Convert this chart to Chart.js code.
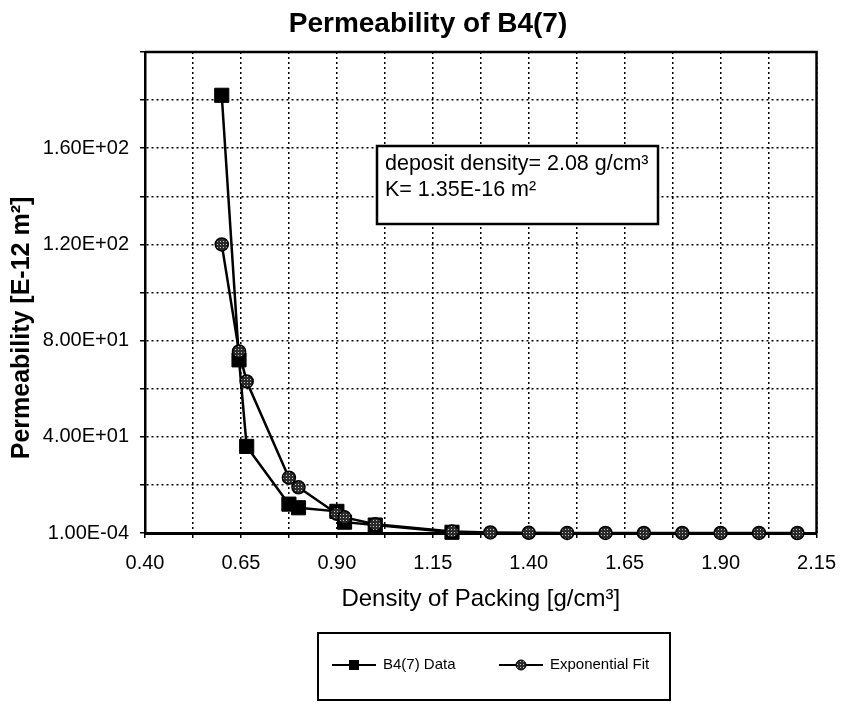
<!DOCTYPE html>
<html lang="en">
<head>
<meta charset="UTF-8">
<title>Permeability of B4(7)</title>
<script src="https://cdn.jsdelivr.net/npm/chart.js"></script>
<style>
  html, body { margin: 0; padding: 0; background: #fff; }
</style>
</head>
<body>
<canvas id="permChart" width="849" height="704"></canvas>
<script>
// B4(7) measured points
const dataDensity = [0.60, 0.645, 0.665, 0.775, 0.80, 0.90, 0.92, 1.00, 1.20];
const dataPerm = [182, 72, 36, 12, 10.5, 9, 4.5, 3.3, 0.3];

// exponential fit
const fitDensity = [0.60, 0.645, 0.665, 0.775, 0.80, 0.90, 0.92, 1.00, 1.20, 1.30, 1.40, 1.50, 1.60, 1.70, 1.80, 1.90, 2.00, 2.10];
const fitPerm = [120, 75.5, 63, 23, 19, 8, 6.5, 3.6, 0.6, 0.25, 0.1, 0.04, 0.02, 0.01, 0.005, 0.002, 0.001, 0.0005];

// axis ticks
const xTickValues = [0.40, 0.65, 0.90, 1.15, 1.40, 1.65, 1.90, 2.15];
const xTickLabels = ['0.40', '0.65', '0.90', '1.15', '1.40', '1.65', '1.90', '2.15'];
const yTickValues = [0.0001, 40, 80, 120, 160];
const yTickLabels = ['1.00E-04', '4.00E+01', '8.00E+01', '1.20E+02', '1.60E+02'];
const yMax = 200;
const yGridStep = 20;

const FONT = '"Liberation Sans", Arial, Helvetica, sans-serif';
Chart.defaults.font.family = FONT;
Chart.defaults.color = '#000';

// gridlines: major ticks plus the halfway lines
const xGrid = [];
xTickValues.forEach((v, i) => {
    xGrid.push(v);
    if (i < xTickValues.length - 1) xGrid.push((v + xTickValues[i + 1]) / 2);
});
const yGrid = [yTickValues[0]];
for (let v = yGridStep; v <= yMax; v += yGridStep) yGrid.push(v);

function labelFor(values, labels, value) {
    const i = values.findIndex(t => Math.abs(t - value) < 1e-6);
    return i >= 0 ? labels[i] : '';
}

// dark fill with light speckles for the fit markers
function speckle() {
    const c = document.createElement('canvas');
    c.width = 3; c.height = 3;
    const g = c.getContext('2d');
    g.fillStyle = '#2b2b2b';
    g.fillRect(0, 0, 3, 3);
    g.fillStyle = '#c8c8c8';
    g.fillRect(1, 1, 1, 1);
    return g.createPattern(c, 'repeat');
}
const fitFill = speckle();

const extras = {
    id: 'extras',
    beforeDatasetsDraw(chart) {
        const { ctx, chartArea: a } = chart;
        ctx.save();
        ctx.strokeStyle = '#000';
        ctx.lineWidth = 2.5;
        ctx.beginPath();
        ctx.moveTo(a.left, a.top);
        ctx.lineTo(a.right, a.top);
        ctx.lineTo(a.right, a.bottom);
        ctx.stroke();
        ctx.restore();
    },
    afterDraw(chart) {
        const { ctx } = chart;
        ctx.save();
        ctx.fillStyle = '#000';

        // title
        ctx.font = 'bold 28px ' + FONT;
        ctx.textAlign = 'center';
        ctx.textBaseline = 'middle';
        ctx.fillText('Permeability of B4(7)', 428, 24);

        // y axis title
        ctx.save();
        ctx.translate(22, 328);
        ctx.rotate(-Math.PI / 2);
        ctx.font = 'bold 25px ' + FONT;
        ctx.fillText('Permeability [E-12 m\u00b2]', 0, 0);
        ctx.restore();

        // text box
        ctx.fillStyle = '#fff';
        ctx.fillRect(377, 146, 281, 78);
        ctx.strokeStyle = '#000';
        ctx.lineWidth = 2.5;
        ctx.strokeRect(377, 146, 281, 78);
        ctx.fillStyle = '#000';
        ctx.font = '21.5px ' + FONT;
        ctx.textAlign = 'left';
        ctx.textBaseline = 'alphabetic';
        ctx.fillText('deposit density= 2.08 g/cm\u00b3', 385, 170);
        ctx.fillText('K= 1.35E-16 m\u00b2', 385, 196);

        // legend
        ctx.lineWidth = 2;
        ctx.strokeRect(318, 633, 352, 67);
        const items = [
            { ds: chart.data.datasets[0], x: 332 },
            { ds: chart.data.datasets[1], x: 499 }
        ];
        const ly = 665;
        items.forEach(it => {
            ctx.strokeStyle = '#000';
            ctx.lineWidth = 2;
            ctx.beginPath();
            ctx.moveTo(it.x, ly);
            ctx.lineTo(it.x + 44, ly);
            ctx.stroke();
            const cx = it.x + 22;
            if (it.ds.pointStyle === 'rect') {
                ctx.fillStyle = '#000';
                ctx.fillRect(cx - 5, ly - 5, 10, 10);
            } else {
                ctx.beginPath();
                ctx.arc(cx, ly, 5, 0, Math.PI * 2);
                ctx.fillStyle = fitFill;
                ctx.fill();
                ctx.lineWidth = 1;
                ctx.stroke();
            }
            ctx.fillStyle = '#000';
            ctx.font = '15px ' + FONT;
            ctx.textBaseline = 'middle';
            ctx.fillText(it.ds.label, it.x + 51, ly);
        });
        ctx.restore();
    }
};

const gridStyle = {
    color: '#000',
    lineWidth: 1.5,
    drawTicks: true,
    tickLength: 5,
    tickColor: '#000',
    tickWidth: 1.5
};

const ctx = document.getElementById('permChart').getContext('2d');
new Chart(ctx, {
    type: 'scatter',
    data: {
        datasets: [
            {
                label: 'B4(7) Data',
                data: dataDensity.map((x, i) => ({ x, y: dataPerm[i] })),
                showLine: true,
                borderColor: '#000',
                borderWidth: 2.5,
                pointStyle: 'rect',
                pointRadius: 10,
                pointBackgroundColor: '#000',
                pointBorderColor: '#000',
                pointBorderWidth: 1,
                order: 2,
                clip: false
            },
            {
                label: 'Exponential Fit',
                data: fitDensity.map((x, i) => ({ x, y: fitPerm[i] })),
                showLine: true,
                borderColor: '#000',
                borderWidth: 2.5,
                pointStyle: 'circle',
                pointRadius: 6.5,
                pointBackgroundColor: fitFill,
                pointBorderColor: '#000',
                pointBorderWidth: 1.5,
                order: 1,
                clip: false
            }
        ]
    },
    options: {
        responsive: false,
        animation: false,
        layout: { padding: { left: 0, right: 19, top: 52, bottom: 0 } },
        plugins: {
            legend: { display: false },
            tooltip: { enabled: false },
            title: { display: false }
        },
        scales: {
            x: {
                type: 'linear',
                position: 'bottom',
                min: xTickValues[0],
                max: xTickValues[xTickValues.length - 1],
                afterBuildTicks: s => { s.ticks = xGrid.map(v => ({ value: v })); },
                afterFit: s => { s.height = 171; },
                ticks: {
                    autoSkip: false,
                    maxRotation: 0,
                    padding: 13,
                    font: { size: 20 },
                    callback: v => labelFor(xTickValues, xTickLabels, v)
                },
                grid: gridStyle,
                border: { color: '#000', width: 3, dash: [2, 3] },
                title: {
                    display: true,
                    text: 'Density of Packing [g/cm\u00b3]',
                    font: { size: 24 },
                    padding: { top: 0, bottom: 90 }
                }
            },
            y: {
                type: 'linear',
                min: yTickValues[0],
                max: yMax,
                afterBuildTicks: s => { s.ticks = yGrid.map(v => ({ value: v })); },
                afterFit: s => { s.width = 145; },
                ticks: {
                    autoSkip: false,
                    padding: 11,
                    font: { size: 20 },
                    callback: v => labelFor(yTickValues, yTickLabels, v)
                },
                grid: gridStyle,
                border: { color: '#000', width: 2.5, dash: [2, 3] }
            }
        }
    },
    plugins: [extras]
});
</script>
</body>
</html>
